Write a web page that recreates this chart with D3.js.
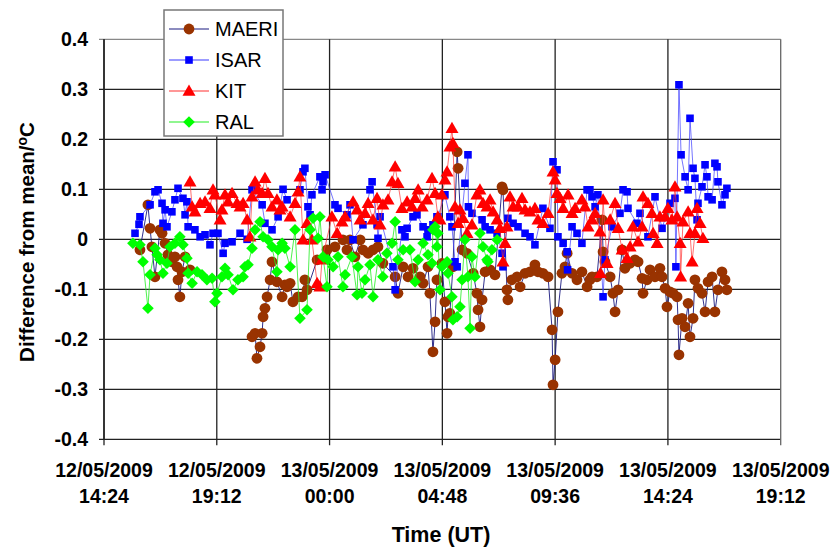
<!DOCTYPE html>
<html>
<head>
<meta charset="utf-8">
<script src="https://cdn.jsdelivr.net/npm/d3@7"></script>
<style>
  body { margin: 0; background: #fff; }
  svg { font-family: "Liberation Sans", Arial, sans-serif; }
</style>
</head>
<body>
<svg id="chart" width="833" height="549"></svg>
<script>
// time in decimal hours from 12/05/2009 00:00 (values > 24 are on 13/05)
var seriesNames = ["MAERI", "ISAR", "KIT", "RAL"];
var xTicks = [14.4, 19.2, 24, 28.8, 33.6, 38.4, 43.2];
var xTickDates = ["12/05/2009", "12/05/2009", "13/05/2009", "13/05/2009", "13/05/2009", "13/05/2009", "13/05/2009"];
var xTickTimes = ["14:24", "19:12", "00:00", "04:48", "09:36", "14:24", "19:12"];
var yTicks = [-0.4, -0.3, -0.2, -0.1, 0, 0.1, 0.2, 0.3, 0.4];
var yTickLabels = ["-0.4", "-0.3", "-0.2", "-0.1", "0", "0.1", "0.2", "0.3", "0.4"];

var maeri = [
  [15.93, -0.021], [16.27, 0.069], [16.36, 0.022], [16.44, -0.015], [16.57, -0.075], [16.78, 0.019],
  [16.87, 0.012], [17.00, -0.008], [17.12, -0.031], [17.29, -0.045], [17.42, -0.035], [17.51, -0.055],
  [17.55, -0.081], [17.63, -0.115], [17.72, -0.065], [17.85, -0.035], [18.06, -0.061], [19.5, null],
  [20.70, -0.195], [20.83, -0.188], [20.91, -0.238], [21.04, -0.215], [21.13, -0.188], [21.17, -0.155],
  [21.25, -0.138], [21.34, -0.115], [21.47, -0.081], [21.55, -0.045], [21.76, -0.085], [21.98, -0.115],
  [22.10, -0.091], [22.19, -0.095], [22.32, -0.088], [22.44, -0.125], [22.66, -0.115], [22.83, -0.115],
  [22.95, -0.081], [23.04, -0.101], [23.47, -0.041], [23.89, -0.021], [24.23, -0.015], [24.57, -0.001],
  [24.74, -0.021], [24.87, -0.001], [25.08, -0.035], [25.30, -0.001], [25.42, -0.021], [25.64, -0.028],
  [25.85, -0.021], [26.06, -0.015], [26.27, -0.048], [26.79, -0.075], [26.91, -0.108], [27.13, -0.055],
  [27.34, -0.075], [27.55, -0.058], [27.85, -0.075], [27.98, -0.088], [28.19, -0.055], [28.27, -0.108],
  [28.40, -0.225], [28.49, -0.165], [28.57, -0.081], [28.78, -0.048], [28.91, -0.125], [29.00, -0.188],
  [29.04, -0.155], [29.12, -0.148], [29.25, -0.055], [29.43, 0.175], [29.47, 0.142], [29.64, -0.021],
  [29.85, -0.028], [30.11, -0.068], [30.27, -0.108], [30.32, -0.141], [30.40, -0.175], [30.49, -0.121],
  [30.62, -0.065], [30.83, -0.061], [31.04, -0.071], [31.34, 0.105], [31.38, 0.099], [31.55, -0.101],
  [31.59, -0.121], [31.76, -0.081], [31.98, -0.075], [32.11, -0.095], [32.32, -0.068], [32.53, -0.065],
  [32.74, -0.051], [32.87, -0.065], [33.08, -0.068], [33.30, -0.075], [33.47, -0.181], [33.51, -0.291],
  [33.60, -0.241], [33.72, -0.145], [33.89, -0.068], [34.02, -0.055], [34.11, -0.028], [34.32, -0.068],
  [34.53, -0.081], [34.74, -0.065], [34.96, -0.095], [35.08, -0.081], [35.17, -0.075], [35.38, -0.075],
  [35.60, 0.039], [35.64, -0.025], [35.72, -0.045], [35.94, -0.075], [36.06, -0.108], [36.15, -0.145],
  [36.28, -0.101], [36.45, -0.021], [36.57, -0.058], [36.79, -0.048], [37.00, -0.041], [37.13, -0.045],
  [37.30, -0.078], [37.34, -0.108], [37.51, -0.081], [37.64, -0.061], [37.85, -0.075], [38.06, -0.058],
  [38.15, -0.075], [38.28, -0.098], [38.36, -0.135], [38.49, -0.105], [38.62, -0.108], [38.79, -0.115],
  [38.83, -0.161], [38.87, -0.231], [39.00, -0.158], [39.13, -0.175], [39.26, -0.128], [39.34, -0.195],
  [39.47, -0.158], [39.55, -0.081], [39.68, -0.098], [39.85, -0.108], [39.98, -0.145], [40.11, -0.085],
  [40.28, -0.075], [40.40, -0.145], [40.53, -0.101], [40.70, -0.065], [40.83, -0.081], [40.91, -0.101]
];

var isar = [
  [15.72, 0.012], [15.89, 0.030], [15.93, 0.045], [16.36, 0.069], [16.57, 0.095], [16.70, 0.099],
  [16.87, 0.072], [16.91, 0.032], [17.00, 0.059], [17.08, 0.025], [17.29, 0.055], [17.42, 0.079],
  [17.55, 0.102], [17.76, 0.082], [17.85, 0.049], [17.93, 0.075], [17.98, 0.025], [18.27, 0.019],
  [18.49, 0.005], [18.70, 0.009], [18.91, -0.011], [19.04, 0.012], [19.25, 0.012], [19.47, -0.028],
  [19.55, -0.008], [19.85, -0.005], [20.19, 0.012], [20.49, 0.000], [20.70, 0.099], [21.13, 0.069],
  [21.25, 0.032], [21.55, 0.019], [21.81, 0.045], [22.02, 0.100], [22.19, 0.079], [22.74, 0.099],
  [22.87, 0.135], [22.95, 0.142], [23.08, 0.065], [23.17, 0.049], [23.25, 0.089], [23.59, 0.125],
  [23.68, 0.099], [23.72, 0.115], [23.81, 0.129], [24.23, 0.069], [24.36, 0.062], [24.74, 0.049],
  [24.87, 0.069], [25.00, -0.001], [25.42, 0.029], [25.72, 0.099], [25.81, 0.115], [26.02, 0.029],
  [26.06, 0.002], [26.15, 0.045], [26.70, -0.055], [26.79, -0.101], [27.08, 0.019], [27.21, 0.005],
  [27.30, 0.022], [27.55, 0.045], [27.72, 0.049], [27.98, 0.025], [28.15, 0.005], [28.19, 0.019],
  [28.40, 0.029], [28.57, 0.045], [28.61, 0.045], [28.91, 0.089], [29.12, 0.045], [29.21, 0.025],
  [29.34, -0.045], [29.43, -0.055], [29.76, 0.112], [29.89, 0.169], [29.91, 0.065], [30.06, 0.052],
  [30.49, 0.039], [30.62, 0.025], [30.83, 0.019], [31.13, 0.012], [31.34, -0.028], [31.38, -0.055],
  [31.59, 0.042], [31.81, 0.032], [32.02, 0.025], [32.32, 0.012], [32.53, 0.005], [32.74, -0.011],
  [33.08, 0.062], [33.38, 0.022], [33.51, 0.155], [33.68, 0.139], [33.72, 0.005], [33.94, -0.008],
  [34.11, -0.025], [34.13, -0.061], [34.32, 0.025], [34.53, 0.012], [34.74, -0.008], [34.96, 0.099],
  [35.08, 0.099], [35.17, 0.085], [35.30, 0.065], [35.42, 0.089], [35.64, -0.115], [35.72, -0.041],
  [36.02, 0.025], [36.36, 0.052], [36.49, 0.099], [36.66, 0.095], [36.70, 0.062], [37.08, 0.032],
  [37.21, 0.052], [37.55, 0.005], [37.85, 0.085], [38.15, 0.022], [38.49, 0.072], [38.70, 0.082],
  [38.74, -0.055], [38.87, 0.309], [38.96, 0.169], [39.13, 0.125], [39.26, 0.099], [39.34, 0.242],
  [39.47, 0.142], [39.55, 0.122], [39.64, 0.039], [39.68, 0.072], [39.85, 0.105], [39.98, 0.149],
  [40.06, 0.125], [40.11, 0.085], [40.28, 0.079], [40.40, 0.152], [40.49, 0.145], [40.53, 0.115],
  [40.70, 0.069], [40.83, 0.089], [40.91, 0.102]
];

var kit = [
  [18.06, 0.115], [18.15, 0.065], [18.27, 0.055], [18.49, 0.072], [18.70, 0.075], [18.91, 0.062],
  [19.04, 0.099], [19.12, 0.089], [19.34, 0.039], [19.42, 0.059], [19.55, 0.089], [19.68, 0.075],
  [19.85, 0.092], [20.06, 0.072], [20.19, 0.065], [20.32, 0.072], [20.49, 0.039], [20.61, 0.005],
  [20.70, 0.085], [20.83, 0.115], [20.95, 0.099], [21.13, 0.092], [21.25, 0.122], [21.38, 0.092],
  [21.55, 0.065], [21.76, 0.079], [21.89, 0.059], [21.98, 0.065], [22.32, 0.045], [22.53, 0.072],
  [22.66, 0.095], [22.74, 0.125], [22.87, -0.001], [23.04, 0.032], [23.25, -0.001], [23.47, -0.088],
  [23.59, -0.095], [23.68, -0.041], [24.10, 0.045], [24.32, 0.012], [24.53, 0.035], [24.66, 0.045],
  [25.00, 0.075], [25.17, 0.059], [25.30, 0.039], [25.51, 0.052], [25.64, 0.072], [25.85, 0.039],
  [26.02, 0.082], [26.15, 0.029], [26.27, 0.069], [26.49, 0.079], [26.66, 0.115], [26.79, 0.145],
  [26.91, 0.112], [27.08, 0.062], [27.30, 0.075], [27.51, 0.065], [27.64, 0.082], [27.77, 0.099],
  [27.94, 0.065], [28.15, 0.079], [28.36, 0.122], [28.49, 0.092], [28.61, 0.045], [28.70, 0.039],
  [28.78, 0.089], [28.91, 0.119], [29.00, 0.135], [29.12, 0.185], [29.21, 0.222], [29.25, 0.192],
  [29.34, 0.065], [29.47, 0.032], [29.55, 0.059], [29.68, 0.042], [29.85, 0.012], [30.06, 0.029],
  [30.27, 0.089], [30.40, 0.099], [30.53, 0.072], [30.70, 0.065], [30.83, 0.079], [30.96, 0.055],
  [31.13, 0.039], [31.25, 0.022], [31.38, -0.045], [31.47, -0.008], [31.55, 0.025], [31.68, 0.085],
  [31.81, 0.065], [32.02, 0.065], [32.19, 0.082], [32.32, 0.059], [32.53, 0.055], [32.74, 0.062],
  [32.87, 0.039], [33.08, 0.032], [33.30, 0.052], [33.51, 0.135], [33.60, 0.119], [33.68, 0.092],
  [33.81, 0.082], [33.94, 0.062], [34.15, 0.089], [34.32, 0.052], [34.45, 0.062], [34.74, 0.079],
  [34.87, 0.065], [35.00, 0.025], [35.17, 0.039], [35.30, 0.052], [35.51, 0.015], [35.53, -0.068],
  [35.64, 0.079], [35.81, -0.048], [35.94, 0.039], [36.15, 0.072], [36.28, 0.022], [36.45, -0.021],
  [36.66, -0.038], [36.79, -0.015], [36.91, 0.025], [37.13, -0.005], [37.30, 0.025], [37.34, 0.085],
  [37.55, 0.072], [37.72, 0.052], [37.77, 0.012], [37.94, -0.008], [38.06, 0.045], [38.28, 0.045],
  [38.40, 0.062], [38.57, 0.039], [38.70, 0.105], [38.79, 0.045], [38.92, -0.008], [38.94, -0.075],
  [39.04, 0.035], [39.26, 0.055], [39.34, 0.012], [39.43, -0.045], [39.55, 0.012], [39.64, 0.062],
  [39.77, 0.032], [39.89, 0.002]
];

var ral = [
  [15.63, -0.008], [15.93, -0.011], [16.06, -0.045], [16.27, -0.138], [16.36, -0.071], [16.57, -0.018],
  [16.66, -0.031], [16.78, -0.041], [16.91, -0.068], [17.08, -0.048], [17.21, -0.015], [17.42, -0.008],
  [17.63, 0.005], [17.76, -0.011], [17.93, -0.038], [17.98, -0.068], [18.15, -0.088], [18.36, -0.065],
  [18.57, -0.071], [18.78, -0.081], [19.00, -0.078], [19.12, -0.125], [19.21, -0.108], [19.42, -0.075],
  [19.55, -0.058], [19.68, -0.071], [19.89, -0.101], [20.10, -0.081], [20.32, -0.075], [20.40, -0.055],
  [20.53, -0.051], [20.70, -0.018], [20.83, 0.019], [21.04, 0.035], [21.17, 0.005], [21.38, -0.001],
  [21.55, -0.015], [21.76, -0.065], [21.81, -0.021], [21.98, -0.008], [22.10, -0.018], [22.32, -0.055],
  [22.53, 0.019], [22.74, -0.158], [23.04, -0.141], [23.17, 0.019], [23.30, 0.042], [23.51, 0.002],
  [23.59, 0.045], [23.72, -0.035], [23.89, -0.095], [23.93, -0.041], [24.15, -0.055], [24.36, -0.035],
  [24.57, -0.095], [24.66, -0.071], [24.95, -0.035], [25.17, -0.111], [25.21, -0.055], [25.38, -0.108],
  [25.51, -0.081], [25.72, -0.051], [25.85, -0.115], [26.06, -0.041], [26.27, -0.075], [26.44, -0.028],
  [26.66, -0.008], [26.79, 0.035], [26.91, -0.041], [27.13, -0.021], [27.42, -0.021], [27.64, -0.085],
  [27.77, -0.041], [27.98, -0.008], [28.19, -0.031], [28.36, -0.048], [28.40, 0.019], [28.49, 0.025],
  [28.57, -0.015], [28.61, 0.012], [28.70, -0.101], [28.78, -0.055], [29.00, -0.045], [29.04, -0.068],
  [29.21, -0.115], [29.25, -0.161], [29.43, -0.155], [29.55, -0.135], [29.64, -0.081], [29.76, -0.001],
  [29.89, -0.075], [29.98, -0.178], [30.06, -0.035], [30.19, -0.075], [30.40, 0.012], [30.53, -0.015],
  [30.70, -0.041], [30.74, -0.045], [30.91, -0.021], [31.13, -0.001]
];

var svg = d3.select("#chart");

var x = d3.scaleLinear().domain([14.4, 43.2]).range([104, 780.7]);
var y = d3.scaleLinear().domain([-0.4, 0.4]).range([439.3, 39.3]);

// grid
svg.append("g").selectAll("line").data(yTicks).enter().append("line")
    .attr("x1", x(14.4) - 5).attr("x2", x(43.2))
    .attr("y1", function(d) { return y(d); }).attr("y2", function(d) { return y(d); })
    .attr("stroke", function(d) { return d === 0.4 ? "#888" : "#222"; })
    .attr("stroke-width", 1.3);
svg.append("g").selectAll("line").data(xTicks).enter().append("line")
    .attr("x1", function(d) { return x(d); }).attr("x2", function(d) { return x(d); })
    .attr("y1", y(0.4)).attr("y2", y(-0.4) + 6)
    .attr("stroke", function(d, i) { return i === xTicks.length - 1 ? "#666" : "#222"; })
    .attr("stroke-width", 1.3);
// y axis line
svg.append("line").attr("x1", x(14.4)).attr("x2", x(14.4)).attr("y1", y(0.4)).attr("y2", y(-0.4))
    .attr("stroke", "#222").attr("stroke-width", 1.5);

// y tick labels
svg.append("g").selectAll("text").data(yTicks).enter().append("text")
    .attr("x", x(14.4) - 16).attr("y", function(d) { return y(d); })
    .attr("dy", "0.36em").attr("text-anchor", "end")
    .attr("font-size", 19.5).attr("font-weight", "bold")
    .text(function(d, i) { return yTickLabels[i]; });

// x tick labels
var xl = svg.append("g").selectAll("text").data(xTicks).enter().append("text")
    .attr("text-anchor", "middle").attr("font-size", 19.5).attr("font-weight", "bold");
xl.append("tspan").attr("x", function(d) { return x(d); }).attr("y", 477)
    .text(function(d, i) { return xTickDates[i]; });
xl.append("tspan").attr("x", function(d) { return x(d); }).attr("y", 503)
    .text(function(d, i) { return xTickTimes[i]; });

// axis titles
svg.append("text").attr("x", 441).attr("y", 542).attr("text-anchor", "middle")
    .attr("font-size", 21.5).attr("font-weight", "bold").text("Time (UT)");
var yt = svg.append("text").attr("transform", "translate(34,242) rotate(-90)")
    .attr("text-anchor", "middle").attr("font-size", 20.5).attr("font-weight", "bold");
yt.append("tspan").text("Difference from mean/");
yt.append("tspan").attr("dy", -7).attr("font-size", 14).text("o");
yt.append("tspan").attr("dy", 7).text("C");

// markers
var shapes = {
  MAERI: "M5.4,0A5.4,5.4 0 1,1 -5.4,0A5.4,5.4 0 1,1 5.4,0Z",
  ISAR: "M-3.8,-3.8H3.8V3.8H-3.8Z",
  KIT: "M0,-6.5L6.5,4.8H-6.5Z",
  RAL: "M0,-5.8L5.8,0L0,5.8L-5.8,0Z"
};
var styles = {
  MAERI: { fill: "#993300", line: "#1a1a80", opacity: 0.9 },
  ISAR: { fill: "#0000ff", line: "#3a3aff", opacity: 0.7 },
  KIT: { fill: "#ff0000", line: "#ff3030", opacity: 0.7 },
  RAL: { fill: "#00ff00", line: "#22ee22", opacity: 0.8 }
};
var allData = { MAERI: maeri, ISAR: isar, KIT: kit, RAL: ral };

var line = d3.line()
    .defined(function(d) { return d[1] !== null; })
    .x(function(d) { return x(d[0]); })
    .y(function(d) { return y(d[1]); });

seriesNames.forEach(function(name) {
  var data = allData[name];
  var st = styles[name];
  var g = svg.append("g");
  g.append("path").datum(data).attr("d", line)
      .attr("fill", "none").attr("stroke", st.line).attr("stroke-width", 1)
      .attr("stroke-opacity", st.opacity);
  g.selectAll("path.m").data(data.filter(function(d) { return d[1] !== null; }))
      .enter().append("path").attr("class", "m")
      .attr("d", shapes[name])
      .attr("transform", function(d) { return "translate(" + x(d[0]) + "," + y(d[1]) + ")"; })
      .attr("fill", st.fill);
});

// legend
var lg = svg.append("g");
lg.append("rect").attr("x", 164).attr("y", 10).attr("width", 119).attr("height", 126)
    .attr("fill", "#fff").attr("stroke", "#777").attr("stroke-width", 1.5);
seriesNames.forEach(function(name, i) {
  var ly = 29 + i * 31;
  lg.append("line").attr("x1", 169).attr("x2", 209).attr("y1", ly).attr("y2", ly)
      .attr("stroke", styles[name].line).attr("stroke-width", 1.2);
  lg.append("path").attr("d", shapes[name]).attr("transform", "translate(189," + ly + ")")
      .attr("fill", styles[name].fill);
  lg.append("text").attr("x", 215).attr("y", ly).attr("dy", "0.36em")
      .attr("font-size", 20).text(name);
});
</script>
</body>
</html>
